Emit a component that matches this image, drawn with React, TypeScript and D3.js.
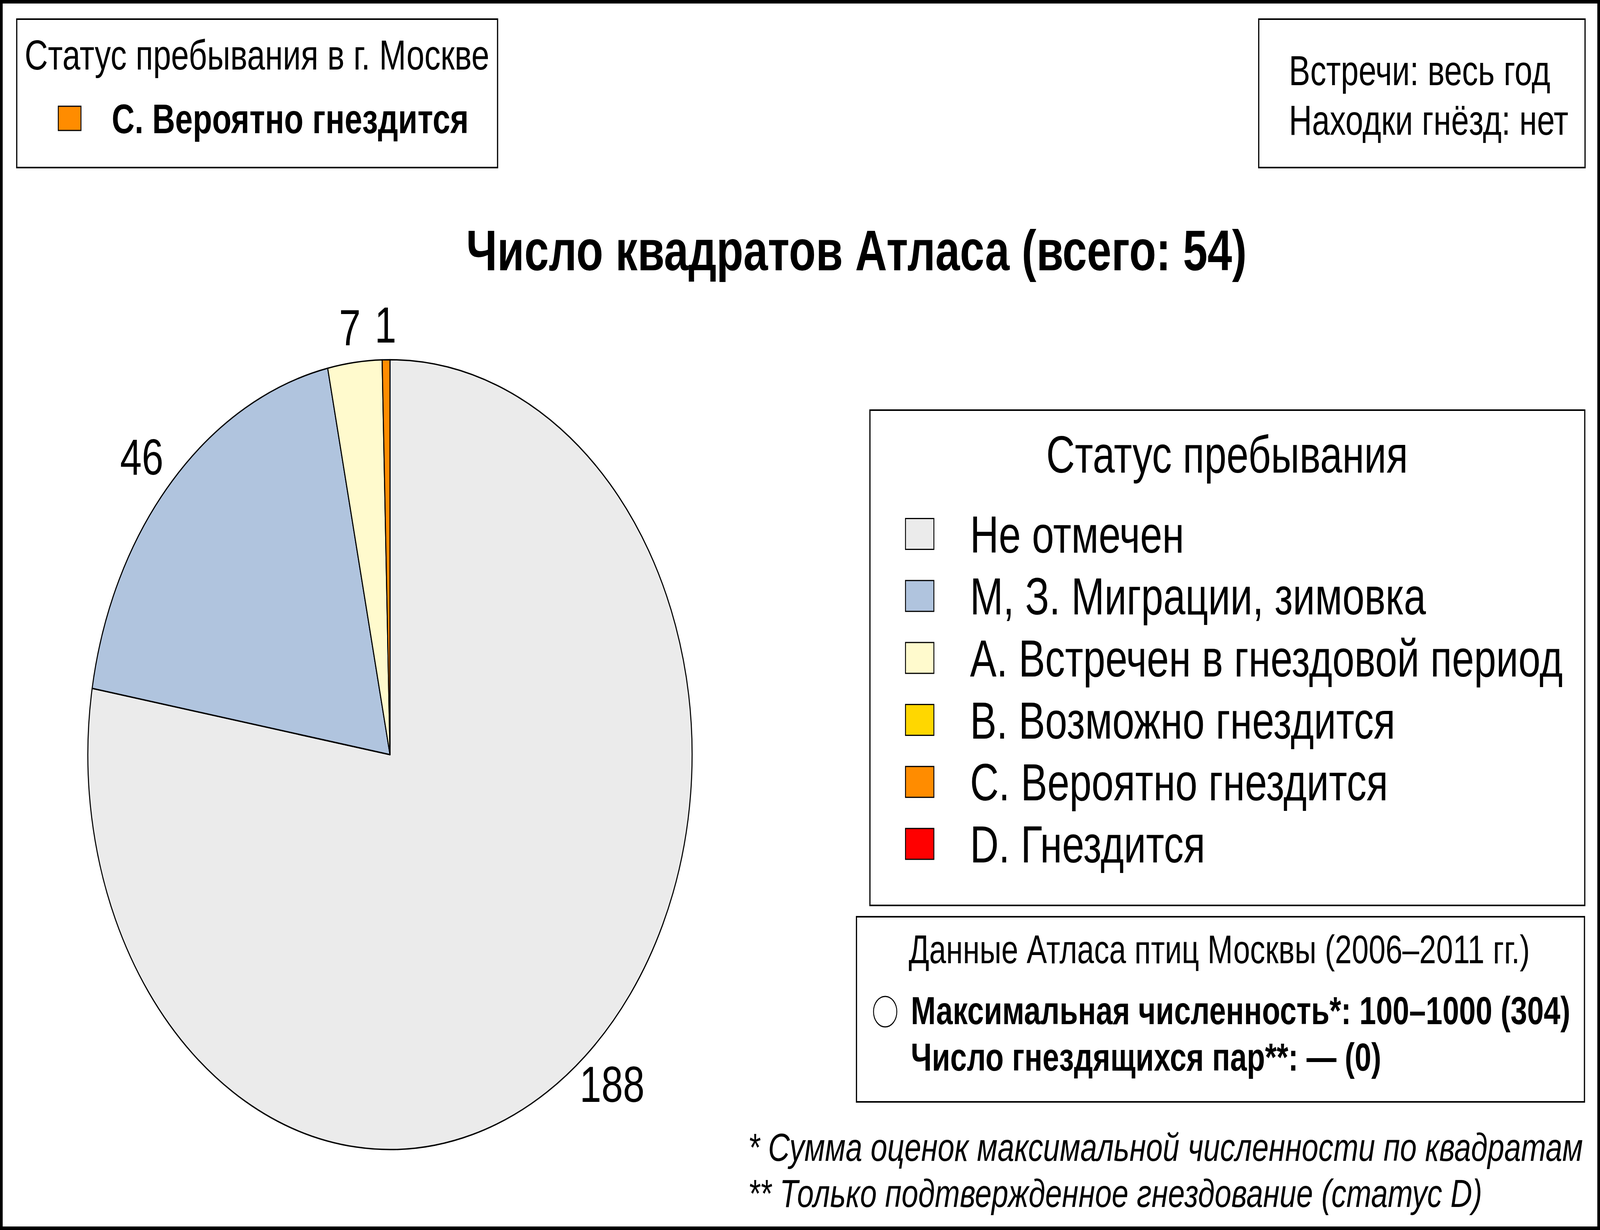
import React from 'react';
import * as d3 from 'd3';

// Status categories, in legend order
const statusLabels = [
  "Не отмечен",
  "M, З. Миграции, зимовка",
  "A. Встречен в гнездовой период",
  "B. Возможно гнездится",
  "C. Вероятно гнездится",
  "D. Гнездится",
];
const statusColors = ["#EBEBEB", "#B0C4DE", "#FFFACD", "#FFD700", "#FF8C00", "#FF0000"];
// Number of squares per status (pie values)
const squareCounts = [188, 46, 7, 0, 1, 0];

const currentStatus = 4; // C. Вероятно гнездится
const infoLines = ["Встречи: весь год", "Находки гнёзд: нет"];
const chartTitle = "Число квадратов Атласа (всего: 54)";
const atlasHeader = "Данные Атласа птиц Москвы (2006–2011 гг.)";
const atlasLines = ["Максимальная численность*: 100–1000 (304)", "Число гнездящихся пар**: — (0)"];
const footnotes = [
  "* Сумма оценок максимальной численности по квадратам",
  "** Только подтвержденное гнездование (статус D)",
];

const W = 5354;
const H = 3149;
const FONT = '"Liberation Sans", Arial, Helvetica, sans-serif';

const App: React.FC = () => {
  const cx = 1305;
  const cy = 1932;
  const radius = 1011;

  const pie = d3.pie<number>().sort(null).value(d => d).startAngle(0).endAngle(2 * Math.PI);
  const arcs = pie(squareCounts).map((a, i) => ({ ...a, i })).filter(a => a.value > 0);
  const arc = d3.arc<d3.PieArcDatum<number>>().innerRadius(0).outerRadius(radius);

  // legend rows
  const rowY = d3.scaleLinear().domain([0, 1]).range([1367, 1367 + 158.7]);
  const legendFs = 133;

  return (
    <div style={{ position: 'absolute', left: 0, top: 0, width: '100vw', height: '100vh', overflow: 'hidden' }}>
      {/* the viewport may be narrower than the chart, so stretch the whole drawing to fill it */}
      <svg width="100%" height="100%" viewBox={`0 0 ${W} ${H}`} preserveAspectRatio="none"
        style={{ display: 'block' }} fontFamily={FONT}>
        <rect x={4.5} y={4.5} width={W - 9} height={H - 9} fill="#fff" stroke="#000" strokeWidth={9} />

        {/* top-left status box */}
        <rect x={56} y={49} width={1609} height={380} fill="none" stroke="#000" strokeWidth={4} />
        <text x={860} y={178} fontSize={108} textAnchor="middle">Статус пребывания в г. Москве</text>
        <rect x={195} y={272} width={76} height={62} fill={statusColors[currentStatus]} stroke="#000" strokeWidth={3} />
        <text x={374} y={341} fontSize={106} fontWeight="bold">{statusLabels[currentStatus]}</text>

        {/* top-right info box */}
        <rect x={4212} y={49} width={1092} height={380} fill="none" stroke="#000" strokeWidth={4} />
        {infoLines.map((t, i) => (
          <text key={t} x={4313} y={218 + i * 127} fontSize={107}>{t}</text>
        ))}

        {/* title */}
        <text x={2866} y={692} fontSize={147.5} fontWeight="bold" textAnchor="middle">{chartTitle}</text>

        {/* pie */}
        <g transform={`translate(${cx},${cy})`}>
          {arcs.map(a => (
            <path key={a.i} d={arc(a) || ''} fill={statusColors[a.i]} stroke="#000" strokeWidth={3.5} strokeLinejoin="round" />
          ))}
          {arcs.map(a => {
            const mid = (a.startAngle + a.endAngle) / 2;
            const x = Math.sin(mid) * radius * 1.14;
            const y = -Math.cos(mid) * radius * 1.09;
            return (
              <text key={'l' + a.i} x={x} y={y + 0.358 * 130} fontSize={130} textAnchor="middle">{a.value}</text>
            );
          })}
        </g>

        {/* status legend */}
        <rect x={2911} y={1050} width={2392} height={1268} fill="none" stroke="#000" strokeWidth={4} />
        <text x={4106} y={1210} fontSize={legendFs} textAnchor="middle">Статус пребывания</text>
        {statusLabels.map((label, i) => (
          <g key={label}>
            <rect x={3030} y={rowY(i) - 39.5} width={95} height={79} fill={statusColors[i]} stroke="#000" strokeWidth={3} />
            <text x={3246} y={rowY(i) + 0.358 * legendFs} fontSize={legendFs}>{label}</text>
          </g>
        ))}

        {/* atlas data box */}
        <rect x={2866} y={2347} width={2436} height={474} fill="none" stroke="#000" strokeWidth={4} />
        <text x={4080} y={2466} fontSize={101.5} textAnchor="middle">{atlasHeader}</text>
        <circle cx={2962} cy={2590} r={39} fill="#fff" stroke="#000" strokeWidth={3} />
        {atlasLines.map((t, i) => (
          <text key={t} x={3048} y={2622 + i * 119} fontSize={100} fontWeight="bold">{t}</text>
        ))}

        {/* footnotes */}
        {footnotes.map((t, i) => (
          <text key={t} x={2503} y={2972 + i * 118} fontSize={100.5} fontStyle="italic">{t}</text>
        ))}
      </svg>
    </div>
  );
};

export default App;
